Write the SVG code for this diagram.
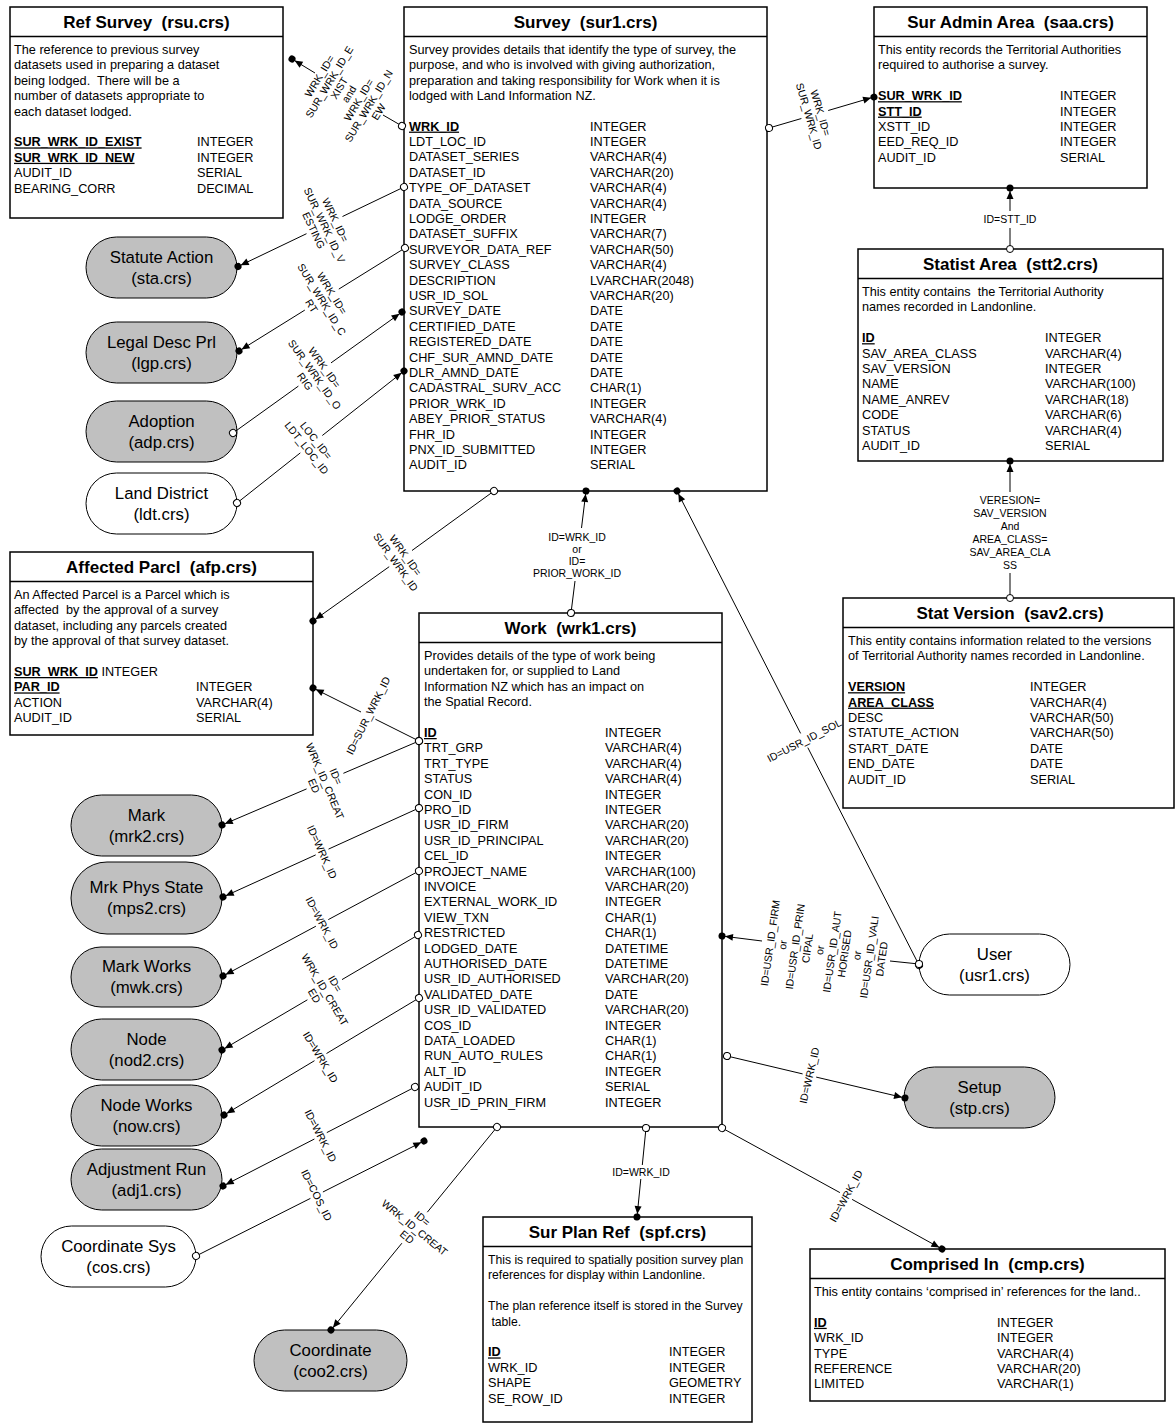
<svg xmlns="http://www.w3.org/2000/svg" width="1175" height="1424" viewBox="0 0 1175 1424">
<style>
text{font-family:"Liberation Sans",Arial,sans-serif;fill:#000}
.box{fill:#fff;stroke:#000;stroke-width:1.5}
.hl{stroke:#000;stroke-width:1.5}
.t{font-size:17px;font-weight:bold;text-anchor:middle}
.d{font-size:12.7px}
.ds{font-size:12.2px}
.k{font-weight:bold;text-decoration:underline}
.n{font-size:16.8px;text-anchor:middle}
.l{font-size:10.5px;text-anchor:middle}
.g{fill:#c0c0c0;stroke:#000;stroke-width:1}
.w{fill:#fff;stroke:#000;stroke-width:1}
.c{fill:none;stroke:#000;stroke-width:1;marker-start:url(#o);marker-end:url(#f)}
</style>
<defs>
<marker id="f" markerUnits="userSpaceOnUse" orient="auto" overflow="visible" markerWidth="10" markerHeight="10" refX="0" refY="0"><path d="M-3,0 L-11,-3.5 L-11,3.5 Z" fill="#000"/><circle r="3.5" fill="#000"/></marker>
<marker id="o" markerUnits="userSpaceOnUse" orient="auto" overflow="visible" markerWidth="10" markerHeight="10" refX="0" refY="0"><circle r="3.5" fill="#fff" stroke="#000" stroke-width="1"/></marker>
</defs>
<rect width="1175" height="1424" fill="#fff"/>

<g id="rsu">
<rect class="box" x="10" y="7" width="273" height="211"/>
<line class="hl" x1="10" y1="36.5" x2="283" y2="36.5"/>
<text class="t" x="146.5" y="27.5" xml:space="preserve">Ref Survey  (rsu.crs)</text>
<text class="d" xml:space="preserve"><tspan x="14" y="54">The reference to previous survey</tspan><tspan x="14" y="69.4">datasets used in preparing a dataset</tspan><tspan x="14" y="84.8">being lodged.  There will be a</tspan><tspan x="14" y="100.2">number of datasets appropriate to</tspan><tspan x="14" y="115.6">each dataset lodged.</tspan></text>
<text class="d"><tspan class="k" x="14" y="146.4">SUR_WRK_ID_EXIST</tspan><tspan class="k" x="14" y="161.8">SUR_WRK_ID_NEW</tspan><tspan x="14" y="177.2">AUDIT_ID</tspan><tspan x="14" y="192.6">BEARING_CORR</tspan></text>
<text class="d"><tspan x="197" y="146.4">INTEGER</tspan><tspan x="197" y="161.8">INTEGER</tspan><tspan x="197" y="177.2">SERIAL</tspan><tspan x="197" y="192.6">DECIMAL</tspan></text>
</g>

<g id="sur">
<rect class="box" x="404" y="7" width="363" height="484"/>
<line class="hl" x1="404" y1="36.5" x2="767" y2="36.5"/>
<text class="t" x="585.5" y="27.5" xml:space="preserve">Survey  (sur1.crs)</text>
<text class="d"><tspan x="409" y="54">Survey provides details that identify the type of survey, the</tspan><tspan x="409" y="69.4">purpose, and who is involved with giving authorization,</tspan><tspan x="409" y="84.8">preparation and taking responsibility for Work when it is</tspan><tspan x="409" y="100.2">lodged with Land Information NZ.</tspan></text>
<text class="d"><tspan class="k" x="409" y="130.6">WRK_ID</tspan><tspan x="409" y="146">LDT_LOC_ID</tspan><tspan x="409" y="161.4">DATASET_SERIES</tspan><tspan x="409" y="176.8">DATASET_ID</tspan><tspan x="409" y="192.2">TYPE_OF_DATASET</tspan><tspan x="409" y="207.6">DATA_SOURCE</tspan><tspan x="409" y="223">LODGE_ORDER</tspan><tspan x="409" y="238.4">DATASET_SUFFIX</tspan><tspan x="409" y="253.8">SURVEYOR_DATA_REF</tspan><tspan x="409" y="269.2">SURVEY_CLASS</tspan><tspan x="409" y="284.6">DESCRIPTION</tspan><tspan x="409" y="300">USR_ID_SOL</tspan><tspan x="409" y="315.4">SURVEY_DATE</tspan><tspan x="409" y="330.8">CERTIFIED_DATE</tspan><tspan x="409" y="346.2">REGISTERED_DATE</tspan><tspan x="409" y="361.6">CHF_SUR_AMND_DATE</tspan><tspan x="409" y="377">DLR_AMND_DATE</tspan><tspan x="409" y="392.4">CADASTRAL_SURV_ACC</tspan><tspan x="409" y="407.8">PRIOR_WRK_ID</tspan><tspan x="409" y="423.2">ABEY_PRIOR_STATUS</tspan><tspan x="409" y="438.6">FHR_ID</tspan><tspan x="409" y="454">PNX_ID_SUBMITTED</tspan><tspan x="409" y="469.4">AUDIT_ID</tspan></text>
<text class="d"><tspan x="590" y="130.6">INTEGER</tspan><tspan x="590" y="146">INTEGER</tspan><tspan x="590" y="161.4">VARCHAR(4)</tspan><tspan x="590" y="176.8">VARCHAR(20)</tspan><tspan x="590" y="192.2">VARCHAR(4)</tspan><tspan x="590" y="207.6">VARCHAR(4)</tspan><tspan x="590" y="223">INTEGER</tspan><tspan x="590" y="238.4">VARCHAR(7)</tspan><tspan x="590" y="253.8">VARCHAR(50)</tspan><tspan x="590" y="269.2">VARCHAR(4)</tspan><tspan x="590" y="284.6">LVARCHAR(2048)</tspan><tspan x="590" y="300">VARCHAR(20)</tspan><tspan x="590" y="315.4">DATE</tspan><tspan x="590" y="330.8">DATE</tspan><tspan x="590" y="346.2">DATE</tspan><tspan x="590" y="361.6">DATE</tspan><tspan x="590" y="377">DATE</tspan><tspan x="590" y="392.4">CHAR(1)</tspan><tspan x="590" y="407.8">INTEGER</tspan><tspan x="590" y="423.2">VARCHAR(4)</tspan><tspan x="590" y="438.6">INTEGER</tspan><tspan x="590" y="454">INTEGER</tspan><tspan x="590" y="469.4">SERIAL</tspan></text>
</g>

<g id="saa">
<rect class="box" x="874" y="7" width="273" height="181"/>
<line class="hl" x1="874" y1="36.5" x2="1147" y2="36.5"/>
<text class="t" x="1010.5" y="27.5" xml:space="preserve">Sur Admin Area  (saa.crs)</text>
<text class="d"><tspan x="878" y="54">This entity records the Territorial Authorities</tspan><tspan x="878" y="69.4">required to authorise a survey.</tspan></text>
<text class="d"><tspan class="k" x="878" y="100.2">SUR_WRK_ID</tspan><tspan class="k" x="878" y="115.6">STT_ID</tspan><tspan x="878" y="131">XSTT_ID</tspan><tspan x="878" y="146.4">EED_REQ_ID</tspan><tspan x="878" y="161.8">AUDIT_ID</tspan></text>
<text class="d"><tspan x="1060" y="100.2">INTEGER</tspan><tspan x="1060" y="115.6">INTEGER</tspan><tspan x="1060" y="131">INTEGER</tspan><tspan x="1060" y="146.4">INTEGER</tspan><tspan x="1060" y="161.8">SERIAL</tspan></text>
</g>

<g id="stt">
<rect class="box" x="858" y="249" width="305" height="212"/>
<line class="hl" x1="858" y1="278.5" x2="1163" y2="278.5"/>
<text class="t" x="1010.5" y="269.5" xml:space="preserve">Statist Area  (stt2.crs)</text>
<text class="d" xml:space="preserve"><tspan x="862" y="296">This entity contains  the Territorial Authority</tspan><tspan x="862" y="311.4">names recorded in Landonline.</tspan></text>
<text class="d"><tspan class="k" x="862" y="342.2">ID</tspan><tspan x="862" y="357.6">SAV_AREA_CLASS</tspan><tspan x="862" y="373">SAV_VERSION</tspan><tspan x="862" y="388.4">NAME</tspan><tspan x="862" y="403.8">NAME_ANREV</tspan><tspan x="862" y="419.2">CODE</tspan><tspan x="862" y="434.6">STATUS</tspan><tspan x="862" y="450">AUDIT_ID</tspan></text>
<text class="d"><tspan x="1045" y="342.2">INTEGER</tspan><tspan x="1045" y="357.6">VARCHAR(4)</tspan><tspan x="1045" y="373">INTEGER</tspan><tspan x="1045" y="388.4">VARCHAR(100)</tspan><tspan x="1045" y="403.8">VARCHAR(18)</tspan><tspan x="1045" y="419.2">VARCHAR(6)</tspan><tspan x="1045" y="434.6">VARCHAR(4)</tspan><tspan x="1045" y="450">SERIAL</tspan></text>
</g>

<g id="sav">
<rect class="box" x="843" y="598" width="331" height="210"/>
<line class="hl" x1="843" y1="627.5" x2="1174" y2="627.5"/>
<text class="t" x="1010" y="618.5" xml:space="preserve">Stat Version  (sav2.crs)</text>
<text class="d"><tspan x="848" y="645">This entity contains information related to the versions</tspan><tspan x="848" y="660.4">of Territorial Authority names recorded in Landonline.</tspan></text>
<text class="d"><tspan class="k" x="848" y="691.2">VERSION</tspan><tspan class="k" x="848" y="706.6">AREA_CLASS</tspan><tspan x="848" y="722">DESC</tspan><tspan x="848" y="737.4">STATUTE_ACTION</tspan><tspan x="848" y="752.8">START_DATE</tspan><tspan x="848" y="768.2">END_DATE</tspan><tspan x="848" y="783.6">AUDIT_ID</tspan></text>
<text class="d"><tspan x="1030" y="691.2">INTEGER</tspan><tspan x="1030" y="706.6">VARCHAR(4)</tspan><tspan x="1030" y="722">VARCHAR(50)</tspan><tspan x="1030" y="737.4">VARCHAR(50)</tspan><tspan x="1030" y="752.8">DATE</tspan><tspan x="1030" y="768.2">DATE</tspan><tspan x="1030" y="783.6">SERIAL</tspan></text>
</g>

<g id="wrk">
<rect class="box" x="419" y="613" width="303" height="514"/>
<line class="hl" x1="419" y1="642.5" x2="722" y2="642.5"/>
<text class="t" x="570.5" y="633.5" xml:space="preserve">Work  (wrk1.crs)</text>
<text class="d"><tspan x="424" y="660">Provides details of the type of work being</tspan><tspan x="424" y="675.4">undertaken for, or supplied to Land</tspan><tspan x="424" y="690.8">Information NZ which has an impact on</tspan><tspan x="424" y="706.2">the Spatial Record.</tspan></text>
<text class="d"><tspan class="k" x="424" y="737">ID</tspan><tspan x="424" y="752.4">TRT_GRP</tspan><tspan x="424" y="767.8">TRT_TYPE</tspan><tspan x="424" y="783.2">STATUS</tspan><tspan x="424" y="798.6">CON_ID</tspan><tspan x="424" y="814">PRO_ID</tspan><tspan x="424" y="829.4">USR_ID_FIRM</tspan><tspan x="424" y="844.8">USR_ID_PRINCIPAL</tspan><tspan x="424" y="860.2">CEL_ID</tspan><tspan x="424" y="875.6">PROJECT_NAME</tspan><tspan x="424" y="891">INVOICE</tspan><tspan x="424" y="906.4">EXTERNAL_WORK_ID</tspan><tspan x="424" y="921.8">VIEW_TXN</tspan><tspan x="424" y="937.2">RESTRICTED</tspan><tspan x="424" y="952.6">LODGED_DATE</tspan><tspan x="424" y="968">AUTHORISED_DATE</tspan><tspan x="424" y="983.4">USR_ID_AUTHORISED</tspan><tspan x="424" y="998.8">VALIDATED_DATE</tspan><tspan x="424" y="1014.2">USR_ID_VALIDATED</tspan><tspan x="424" y="1029.6">COS_ID</tspan><tspan x="424" y="1045">DATA_LOADED</tspan><tspan x="424" y="1060.4">RUN_AUTO_RULES</tspan><tspan x="424" y="1075.8">ALT_ID</tspan><tspan x="424" y="1091.2">AUDIT_ID</tspan><tspan x="424" y="1106.6">USR_ID_PRIN_FIRM</tspan></text>
<text class="d"><tspan x="605" y="737">INTEGER</tspan><tspan x="605" y="752.4">VARCHAR(4)</tspan><tspan x="605" y="767.8">VARCHAR(4)</tspan><tspan x="605" y="783.2">VARCHAR(4)</tspan><tspan x="605" y="798.6">INTEGER</tspan><tspan x="605" y="814">INTEGER</tspan><tspan x="605" y="829.4">VARCHAR(20)</tspan><tspan x="605" y="844.8">VARCHAR(20)</tspan><tspan x="605" y="860.2">INTEGER</tspan><tspan x="605" y="875.6">VARCHAR(100)</tspan><tspan x="605" y="891">VARCHAR(20)</tspan><tspan x="605" y="906.4">INTEGER</tspan><tspan x="605" y="921.8">CHAR(1)</tspan><tspan x="605" y="937.2">CHAR(1)</tspan><tspan x="605" y="952.6">DATETIME</tspan><tspan x="605" y="968">DATETIME</tspan><tspan x="605" y="983.4">VARCHAR(20)</tspan><tspan x="605" y="998.8">DATE</tspan><tspan x="605" y="1014.2">VARCHAR(20)</tspan><tspan x="605" y="1029.6">INTEGER</tspan><tspan x="605" y="1045">CHAR(1)</tspan><tspan x="605" y="1060.4">CHAR(1)</tspan><tspan x="605" y="1075.8">INTEGER</tspan><tspan x="605" y="1091.2">SERIAL</tspan><tspan x="605" y="1106.6">INTEGER</tspan></text>
</g>

<g id="afp">
<rect class="box" x="10" y="552" width="303" height="183"/>
<line class="hl" x1="10" y1="581.5" x2="313" y2="581.5"/>
<text class="t" x="161.5" y="572.5" xml:space="preserve">Affected Parcl  (afp.crs)</text>
<text class="d" xml:space="preserve"><tspan x="14" y="599">An Affected Parcel is a Parcel which is</tspan><tspan x="14" y="614.4">affected  by the approval of a survey</tspan><tspan x="14" y="629.8">dataset, including any parcels created</tspan><tspan x="14" y="645.2">by the approval of that survey dataset.</tspan></text>
<text class="d" x="14" y="676"><tspan class="k">SUR_WRK_ID</tspan> INTEGER</text>
<text class="d"><tspan class="k" x="14" y="691.4">PAR_ID</tspan><tspan x="14" y="706.8">ACTION</tspan><tspan x="14" y="722.2">AUDIT_ID</tspan></text>
<text class="d"><tspan x="196" y="691.4">INTEGER</tspan><tspan x="196" y="706.8">VARCHAR(4)</tspan><tspan x="196" y="722.2">SERIAL</tspan></text>
</g>

<g id="spf">
<rect class="box" x="483" y="1217" width="269" height="205"/>
<line class="hl" x1="483" y1="1246.5" x2="752" y2="1246.5"/>
<text class="t" x="617.5" y="1237.5" xml:space="preserve">Sur Plan Ref  (spf.crs)</text>
<text class="ds" xml:space="preserve"><tspan x="488" y="1264">This is required to spatially position survey plan</tspan><tspan x="488" y="1279.4">references for display within Landonline.</tspan><tspan x="488" y="1310.2">The plan reference itself is stored in the Survey</tspan><tspan x="488" y="1325.6"> table.</tspan></text>
<text class="d"><tspan class="k" x="488" y="1356.4">ID</tspan><tspan x="488" y="1371.8">WRK_ID</tspan><tspan x="488" y="1387.2">SHAPE</tspan><tspan x="488" y="1402.6">SE_ROW_ID</tspan></text>
<text class="d"><tspan x="669" y="1356.4">INTEGER</tspan><tspan x="669" y="1371.8">INTEGER</tspan><tspan x="669" y="1387.2">GEOMETRY</tspan><tspan x="669" y="1402.6">INTEGER</tspan></text>
</g>

<g id="cmp">
<rect class="box" x="810" y="1249" width="355" height="152"/>
<line class="hl" x1="810" y1="1278.5" x2="1165" y2="1278.5"/>
<text class="t" x="987.5" y="1269.5" xml:space="preserve">Comprised In  (cmp.crs)</text>
<text class="d" x="814" y="1296">This entity contains ‘comprised in’ references for the land..</text>
<text class="d"><tspan class="k" x="814" y="1326.8">ID</tspan><tspan x="814" y="1342.2">WRK_ID</tspan><tspan x="814" y="1357.6">TYPE</tspan><tspan x="814" y="1373">REFERENCE</tspan><tspan x="814" y="1388.4">LIMITED</tspan></text>
<text class="d"><tspan x="997" y="1326.8">INTEGER</tspan><tspan x="997" y="1342.2">INTEGER</tspan><tspan x="997" y="1357.6">VARCHAR(4)</tspan><tspan x="997" y="1373">VARCHAR(20)</tspan><tspan x="997" y="1388.4">VARCHAR(1)</tspan></text>
</g>

<g id="sta"><rect class="g" x="86" y="237" width="151" height="61" rx="30.5"/><text class="n"><tspan x="161.5" y="263">Statute Action</tspan><tspan x="161.5" y="284">(sta.crs)</tspan></text></g>
<g id="lgp"><rect class="g" x="86" y="322" width="151" height="61" rx="30.5"/><text class="n"><tspan x="161.5" y="348">Legal Desc Prl</tspan><tspan x="161.5" y="369">(lgp.crs)</tspan></text></g>
<g id="adp"><rect class="g" x="86" y="401" width="151" height="61" rx="30.5"/><text class="n"><tspan x="161.5" y="427">Adoption</tspan><tspan x="161.5" y="448">(adp.crs)</tspan></text></g>
<g id="ldt"><rect class="w" x="86" y="473" width="151" height="61" rx="30.5"/><text class="n"><tspan x="161.5" y="499">Land District</tspan><tspan x="161.5" y="520">(ldt.crs)</tspan></text></g>
<g id="mrk"><rect class="g" x="71" y="795" width="151" height="61" rx="30.5"/><text class="n"><tspan x="146.5" y="821">Mark</tspan><tspan x="146.5" y="842">(mrk2.crs)</tspan></text></g>
<g id="mps"><rect class="g" x="71" y="862" width="151" height="72" rx="36"/><text class="n"><tspan x="146.5" y="893">Mrk Phys State</tspan><tspan x="146.5" y="914">(mps2.crs)</tspan></text></g>
<g id="mwk"><rect class="g" x="71" y="947" width="151" height="60" rx="30"/><text class="n"><tspan x="146.5" y="972">Mark Works</tspan><tspan x="146.5" y="993">(mwk.crs)</tspan></text></g>
<g id="nod"><rect class="g" x="71" y="1019" width="151" height="61" rx="30.5"/><text class="n"><tspan x="146.5" y="1045">Node</tspan><tspan x="146.5" y="1066">(nod2.crs)</tspan></text></g>
<g id="now"><rect class="g" x="71" y="1085" width="151" height="61" rx="30.5"/><text class="n"><tspan x="146.5" y="1111">Node Works</tspan><tspan x="146.5" y="1132">(now.crs)</tspan></text></g>
<g id="adj"><rect class="g" x="71" y="1149" width="151" height="61" rx="30.5"/><text class="n"><tspan x="146.5" y="1175">Adjustment Run</tspan><tspan x="146.5" y="1196">(adj1.crs)</tspan></text></g>
<g id="cos"><rect class="w" x="41" y="1226" width="155" height="61" rx="30.5"/><text class="n"><tspan x="118.5" y="1252">Coordinate Sys</tspan><tspan x="118.5" y="1273">(cos.crs)</tspan></text></g>
<g id="coo"><rect class="g" x="254" y="1330" width="153" height="61" rx="30.5"/><text class="n"><tspan x="330.5" y="1356">Coordinate</tspan><tspan x="330.5" y="1377">(coo2.crs)</tspan></text></g>
<g id="usr"><rect class="w" x="919" y="934" width="151" height="61" rx="30.5"/><text class="n"><tspan x="994.5" y="960">User</tspan><tspan x="994.5" y="981">(usr1.crs)</tspan></text></g>
<g id="stp"><rect class="g" x="904" y="1067" width="151" height="61" rx="30.5"/><text class="n"><tspan x="979.5" y="1093">Setup</tspan><tspan x="979.5" y="1114">(stp.crs)</tspan></text></g>

<g id="connectors">
<path class="c" d="M402,126 L383,115 M315,73 L292,59"/>
<text class="l" transform="translate(349,94) rotate(-58.7)"><tspan x="0" y="-30.8">WRK_ID=</tspan><tspan x="0" y="-19.3">SUR_WRK_ID_E</tspan><tspan x="0" y="-7.8">XIST</tspan><tspan x="0" y="3.7">and</tspan><tspan x="0" y="15.2">WRK_ID=</tspan><tspan x="0" y="26.7">SUR_WRK_ID_N</tspan><tspan x="0" y="38.2">EW</tspan></text>

<path class="c" d="M404,187 L342.5,216.5 M306.5,233.7 L238,266.5"/>
<text class="l" transform="translate(324.5,225.1) rotate(64.4)"><tspan x="0" y="-8.3">WRK_ID=</tspan><tspan x="0" y="3.7">SUR_WRK_ID_V</tspan><tspan x="0" y="15.7">ESTING</tspan></text>

<path class="c" d="M405,248 L338.8,289.1 M304.8,310.1 L239,351"/>
<text class="l" transform="translate(321.8,299.6) rotate(58.2)"><tspan x="0" y="-8.3">WRK_ID=</tspan><tspan x="0" y="3.7">SUR_WRK_ID_C</tspan><tspan x="0" y="15.7">RT</tspan></text>

<path class="c" d="M233,433 L298.4,386.1 M331,362.9 L402,312"/>
<text class="l" transform="translate(314.7,374.5) rotate(54.4)"><tspan x="0" y="-8.3">WRK_ID=</tspan><tspan x="0" y="3.7">SUR_WRK_ID_O</tspan><tspan x="0" y="15.7">RIG</tspan></text>

<path class="c" d="M237,503 L300.3,452.9 M322.3,435.5 L404,371"/>
<text class="l" transform="translate(311.3,444.2) rotate(51.7)"><tspan x="0" y="-2.3">LOC_ID=</tspan><tspan x="0" y="9.7">LDT_LOC_ID</tspan></text>

<path class="c" d="M769,128 L801.4,118.5 M828.2,110.5 L874,97"/>
<text class="l" transform="translate(814.8,114.5) rotate(73.6)"><tspan x="0" y="-2.3">WRK_ID=</tspan><tspan x="0" y="9.7">SUR_WRK_ID</tspan></text>

<path class="c" d="M494,491 L412,550.5 M389.2,566.7 L313,621"/>
<text class="l" transform="translate(400.6,558.6) rotate(54.5)"><tspan x="0" y="-2.3">WRK_ID=</tspan><tspan x="0" y="9.7">SUR_WRK_ID</tspan></text>

<path class="c" d="M571,613 L575,581 M581.5,528 L586,491"/>
<text class="l"><tspan x="577" y="540.7">ID=WRK_ID</tspan><tspan x="577" y="552.7">or</tspan><tspan x="577" y="564.7">ID=</tspan><tspan x="577" y="576.7">PRIOR_WORK_ID</tspan></text>

<path class="c" d="M919,965 L807.8,747.6 M800.6,733.4 L677,491"/>
<text class="l" transform="translate(804.2,740.5) rotate(-27.1)"><tspan x="0" y="3.7">ID=USR_ID_SOL</tspan></text>

<path class="c" d="M419,741 L375.4,719.2 M361,712 L313,688"/>
<text class="l" transform="translate(368.2,715.6) rotate(-63.4)"><tspan x="0" y="3.7">ID=SUR_WRK_ID</tspan></text>

<path class="c" d="M419,741 L343.4,773.3 M306.6,788.9 L222,825"/>
<text class="l" transform="translate(325,781.1) rotate(66.9)"><tspan x="0" y="-8.3">ID=</tspan><tspan x="0" y="3.7">WRK_ID_CREAT</tspan><tspan x="0" y="15.7">ED</tspan></text>

<path class="c" d="M419,808 L328.5,849.1 M315.7,854.9 L223,897"/>
<text class="l" transform="translate(322.1,852) rotate(65.6)"><tspan x="0" y="3.7">ID=WRK_ID</tspan></text>

<path class="c" d="M419,871 L328.3,919.6 M315.9,926.2 L223,976"/>
<text class="l" transform="translate(322.1,922.9) rotate(61.8)"><tspan x="0" y="3.7">ID=WRK_ID</tspan></text>

<path class="c" d="M418,935 L342,979.6 M307.4,999.8 L222,1050"/>
<text class="l" transform="translate(324.7,989.7) rotate(59.6)"><tspan x="0" y="-8.3">ID=</tspan><tspan x="0" y="3.7">WRK_ID_CREAT</tspan><tspan x="0" y="15.7">ED</tspan></text>

<path class="c" d="M419,998 L326.5,1053.5 M314.5,1060.7 L224,1115"/>
<text class="l" transform="translate(320.5,1057.1) rotate(59)"><tspan x="0" y="3.7">ID=WRK_ID</tspan></text>

<path class="c" d="M415,1087 L326.8,1132.6 M314.4,1139 L223,1186"/>
<text class="l" transform="translate(320.6,1135.8) rotate(62.7)"><tspan x="0" y="3.7">ID=WRK_ID</tspan></text>

<path class="c" d="M196,1256 L310.4,1198.4 M322.9,1192 L424,1141"/>
<text class="l" transform="translate(316.6,1195.2) rotate(63.2)"><tspan x="0" y="3.7">ID=COS_ID</tspan></text>

<path class="c" d="M497,1127 L427.3,1212.2 M401.9,1243.2 L331,1330"/>
<text class="l" transform="translate(414.6,1227.7) rotate(39.3)"><tspan x="0" y="-8.3">ID=</tspan><tspan x="0" y="3.7">WRK_ID_CREAT</tspan><tspan x="0" y="15.7">ED</tspan></text>

<path class="c" d="M646,1128 L642.3,1165 M640.8,1179 L637,1217"/>
<text class="l" x="641" y="1175.7">ID=WRK_ID</text>

<path class="c" d="M722,1128 L839.9,1192.6 M852.1,1199.4 L942,1249"/>
<text class="l" transform="translate(846,1196) rotate(-61.2)"><tspan x="0" y="3.7">ID=WRK_ID</tspan></text>

<path class="c" d="M919,964 L890,961 M762,941 L722,936"/>
<text class="l" transform="translate(826,951) rotate(-81.9)"><tspan x="0" y="-52.55">ID=USR_ID_FIRM</tspan><tspan x="0" y="-40.05">or</tspan><tspan x="0" y="-27.55">ID=USR_ID_PRIN</tspan><tspan x="0" y="-15.05">CIPAL</tspan><tspan x="0" y="-2.55">or</tspan><tspan x="0" y="9.95">ID=USR_ID_AUT</tspan><tspan x="0" y="22.45">HORISED</tspan><tspan x="0" y="34.95">or</tspan><tspan x="0" y="47.45">ID=USR_ID_VALI</tspan><tspan x="0" y="59.95">DATED</tspan></text>

<path class="c" d="M727,1056 L802.6,1073.9 M816.2,1077.1 L905,1098"/>
<text class="l" transform="translate(809.4,1075.5) rotate(-76.7)"><tspan x="0" y="3.7">ID=WRK_ID</tspan></text>

<path class="c" d="M1010,249 L1010,228 M1010,211 L1010,188"/>
<text class="l" x="1010" y="223">ID=STT_ID</text>

<path class="c" d="M1010,598 L1010,573 M1010,492 L1010,461"/>
<text class="l"><tspan x="1010" y="503.7">VERESION=</tspan><tspan x="1010" y="516.7">SAV_VERSION</tspan><tspan x="1010" y="529.7">And</tspan><tspan x="1010" y="542.7">AREA_CLASS=</tspan><tspan x="1010" y="555.7">SAV_AREA_CLA</tspan><tspan x="1010" y="568.7">SS</tspan></text>
</g>
</svg>
